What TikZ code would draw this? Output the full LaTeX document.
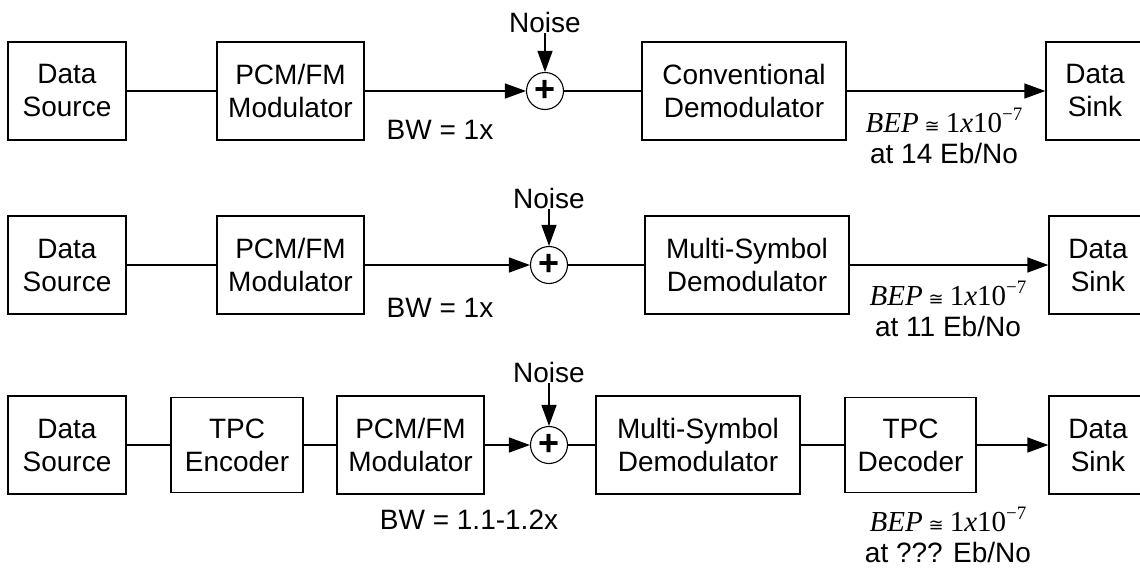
\documentclass[tikz,border=0pt]{standalone}
\usepackage{fontspec}
\setmainfont{Liberation Sans}
\newfontfamily\timesfont{Liberation Serif}
\newfontfamily\symfont{DejaVu Sans}
\usetikzlibrary{arrows.meta,positioning}

\tikzstyle{mybox} = [draw=black, line width=1.3pt, rectangle, minimum height=98pt, align=center, inner sep=2pt, font=\fontsize{28}{33}\selectfont]
\tikzstyle{mysum} = [draw=black, line width=1.1pt, circle, minimum size=37pt, inner sep=0pt, font=\fontsize{36}{36}\selectfont\bfseries]
\tikzstyle{mynote} = [align=center, inner sep=1pt, font=\fontsize{28}{31}\selectfont]
\tikzstyle{mylink} = [line width=1.3pt]
\tikzstyle{myarrow} = [line width=1.3pt, -{Triangle[length=21pt,width=15pt]}]

\newcommand{\bepline}{{\timesfont\fontsize{29}{29}\selectfont\itshape BEP}\hspace{6pt}{\symfont\fontsize{18}{18}\selectfont ≅}\hspace{6pt}{\timesfont\fontsize{29}{29}\selectfont 1\textit{x}10\raisebox{.42em}{\fontsize{19}{19}\selectfont −7}}}

\begin{document}
\begin{tikzpicture}[x=1pt, y=-1pt]
\useasboundingbox (0,0) rectangle (1140,568);

% conventional
\node[mybox, minimum width=118pt] (src1) at (67,91) {Data\\Source};
\node[mybox, minimum width=147pt] (mod1) at (290.5,91) {PCM/FM\\Modulator};
\node[mysum] (sum1) at (545,91) {+};
\node[mybox, minimum width=204pt] (dem1) at (744,91) {Conventional\\Demodulator};
\node[mybox, minimum width=98pt] (sink1) at (1095,91) {Data\\Sink};
\node[mynote] (noise1) at (545,22) {Noise};
\node[mynote] (bw1) at (440,130) {BW = 1x};
\node[mynote] (bep1) at (944,136) {\bepline\\at 14 Eb/No};
\draw[mylink] (src1) -- (mod1);
\draw[myarrow] (mod1) -- (sum1);
\draw[myarrow] (noise1) -- (sum1);
\draw[mylink] (sum1) -- (dem1);
\draw[myarrow] (dem1) -- (sink1);

% multi-symbol
\node[mybox, minimum width=118pt] (src2) at (67,265) {Data\\Source};
\node[mybox, minimum width=147pt] (mod2) at (290.5,265) {PCM/FM\\Modulator};
\node[mysum] (sum2) at (549,265) {+};
\node[mybox, minimum width=204pt] (dem2) at (747,265) {Multi-Symbol\\Demodulator};
\node[mybox, minimum width=98pt] (sink2) at (1098,265) {Data\\Sink};
\node[mynote] (noise2) at (549,198) {Noise};
\node[mynote] (bw2) at (440,308) {BW = 1x};
\node[mynote] (bep2) at (948,309) {\bepline\\at 11 Eb/No};
\draw[mylink] (src2) -- (mod2);
\draw[myarrow] (mod2) -- (sum2);
\draw[myarrow] (noise2) -- (sum2);
\draw[mylink] (sum2) -- (dem2);
\draw[myarrow] (dem2) -- (sink2);

% multi-symbol with TPC
\node[mybox, minimum width=118pt] (src3) at (67,445) {Data\\Source};
\node[mybox, minimum width=132pt, minimum height=95pt] (enc3) at (237,445) {TPC\\Encoder};
\node[mybox, minimum width=147pt] (mod3) at (410.5,445) {PCM/FM\\Modulator};
\node[mysum] (sum3) at (549,445) {+};
\node[mybox, minimum width=204pt] (dem3) at (698,445) {Multi-Symbol\\Demodulator};
\node[mybox, minimum width=131pt, minimum height=95pt] (dec3) at (910.5,445) {TPC\\Decoder};
\node[mybox, minimum width=98pt] (sink3) at (1098,445) {Data\\Sink};
\node[mynote] (noise3) at (549,372) {Noise};
\node[mynote] (bw3) at (469,520) {BW = 1.1-1.2x};
\node[mynote] (bep3) at (948,535) {\bepline\\at ??? Eb/No};
\draw[mylink] (src3) -- (enc3);
\draw[mylink] (enc3) -- (mod3);
\draw[myarrow] (mod3) -- (sum3);
\draw[myarrow] (noise3) -- (sum3);
\draw[mylink] (sum3) -- (dem3);
\draw[mylink] (dem3) -- (dec3);
\draw[myarrow] (dec3) -- (sink3);
\end{tikzpicture}
\end{document}
